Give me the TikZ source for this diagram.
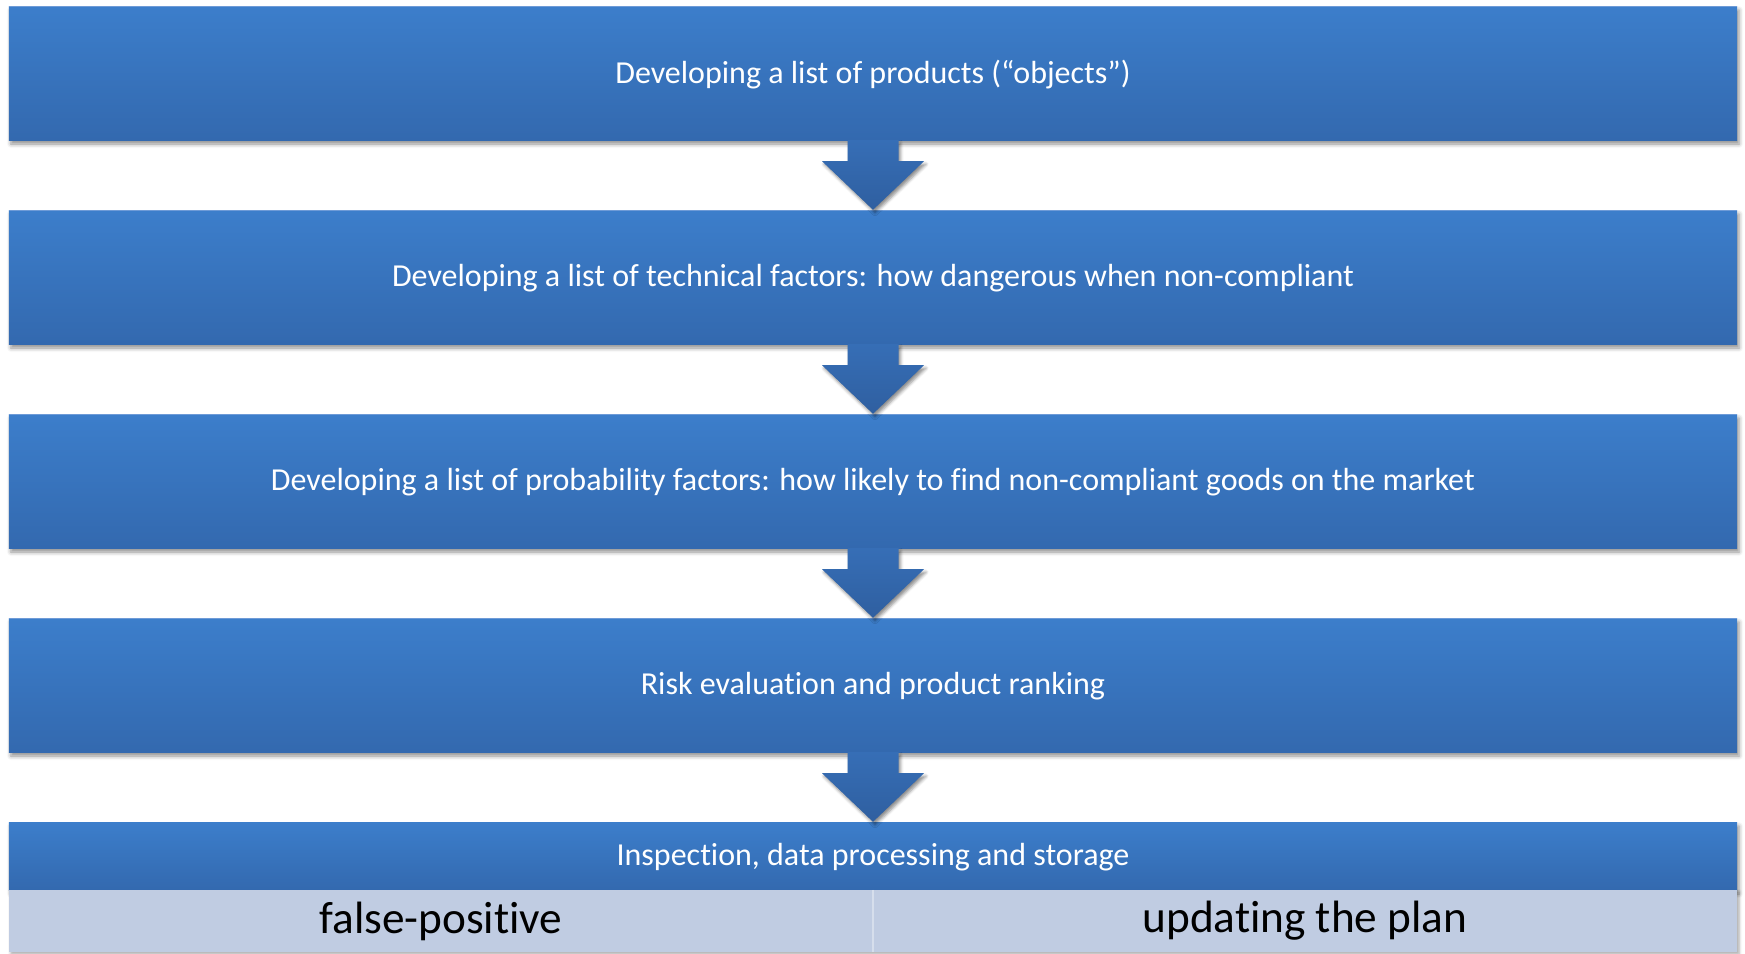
\documentclass[tikz,border=0pt]{standalone}
\usepackage{fontspec}
\setmainfont[Ligatures=NoCommon]{Carlito}
\usetikzlibrary{calc,shadows.blur}
\definecolor{boxtop}{RGB}{60,126,203}
\definecolor{boxbot}{RGB}{51,105,175}
\definecolor{boxedge}{RGB}{110,155,215}
\definecolor{arrtop}{RGB}{54,110,182}
\definecolor{arrbot}{RGB}{47,95,160}
\definecolor{lightfill}{RGB}{192,204,226}
\definecolor{divline}{RGB}{214,222,236}
\tikzset{
  stepbox/.style={rectangle, minimum width=1728bp, minimum height=134bp,
    inner sep=0pt, top color=boxtop, bottom color=boxbot, text=white,
    font=\fontsize{32bp}{38bp}\selectfont,
    blur shadow={shadow xshift=2bp, shadow yshift=-4bp, shadow blur radius=4bp, shadow opacity=45}},
  lastbox/.style={stepbox, minimum height=68bp},
  steplabel/.style={text=white, font=\fontsize{32bp}{38bp}\selectfont, inner sep=0pt},
  resultbox/.style={rectangle, minimum width=864bp, minimum height=62bp,
    inner sep=0pt, fill=lightfill, text=black, font=\fontsize{45.3bp}{52bp}\selectfont},
  blockarrow/.style={top color=arrtop, bottom color=arrbot,
    blur shadow={shadow xshift=2bp, shadow yshift=-3bp, shadow blur radius=3bp, shadow opacity=45}},
  topedge/.style={boxedge, line width=1.2bp}
}
\newcommand{\downarrowblock}[2]{%
  \path[blockarrow]
    ($(#1.south)+(-25.5,0)$) -- ($(#1.south)+(25.5,0)$) --
    ($(#1.south)+(25.5,21)$) -- ($(#1.south)+(51,21)$) --
    (#2.north) -- ($(#1.south)+(-51,21)$) --
    ($(#1.south)+(-25.5,21)$) -- cycle;}
\begin{document}
\begin{tikzpicture}[x=1bp,y=-1bp]
% step boxes
\node[stepbox] (b1) at (873,73) {};
\node[stepbox] (b2) at (873,277) {};
\node[stepbox] (b3) at (873,481) {};
\node[stepbox] (b4) at (873,685) {};
\foreach \b in {b1,b2,b3,b4}
  \draw[topedge] ($(\b.north west)+(0,0.6)$) -- ($(\b.north east)+(0,0.6)$);
% results panel
\fill[lightfill, blur shadow={shadow xshift=2bp, shadow yshift=-2bp, shadow blur radius=3bp, shadow opacity=35}] (9,890) rectangle (1737,952);
\node[lastbox] (b5) at (873,856) {};
\node[resultbox] (fp) at (441,921) {false-positive};
\node[resultbox] (up) at (1305,921) {updating the plan};
\draw[divline, line width=1.5bp] (fp.north east) -- (fp.south east);
% block arrows between steps
\downarrowblock{b1}{b2}
\downarrowblock{b2}{b3}
\downarrowblock{b3}{b4}
\downarrowblock{b4}{b5}
% step labels
\node[steplabel] (t1) at ($(b1.center)+(0,1.5)$) {Developing a list of products (“objects”)};
\node[steplabel] (t2) at ($(b2.center)+(0,1.5)$) {Developing a list of technical factors: how dangerous when non-compliant};
\node[steplabel] (t3) at ($(b3.center)+(0,1.5)$) {Developing a list of probability factors: how likely to find non-compliant goods on the market};
\node[steplabel] (t4) at ($(b4.center)+(0,1.5)$) {Risk evaluation and product ranking};
\node[steplabel] (t5) at ($(b5.center)+(0,1)$) {Inspection, data processing and storage};
% fixed page size
\pgfresetboundingbox
\useasboundingbox (0,0) rectangle (1745,953);
\end{tikzpicture}
\end{document}
